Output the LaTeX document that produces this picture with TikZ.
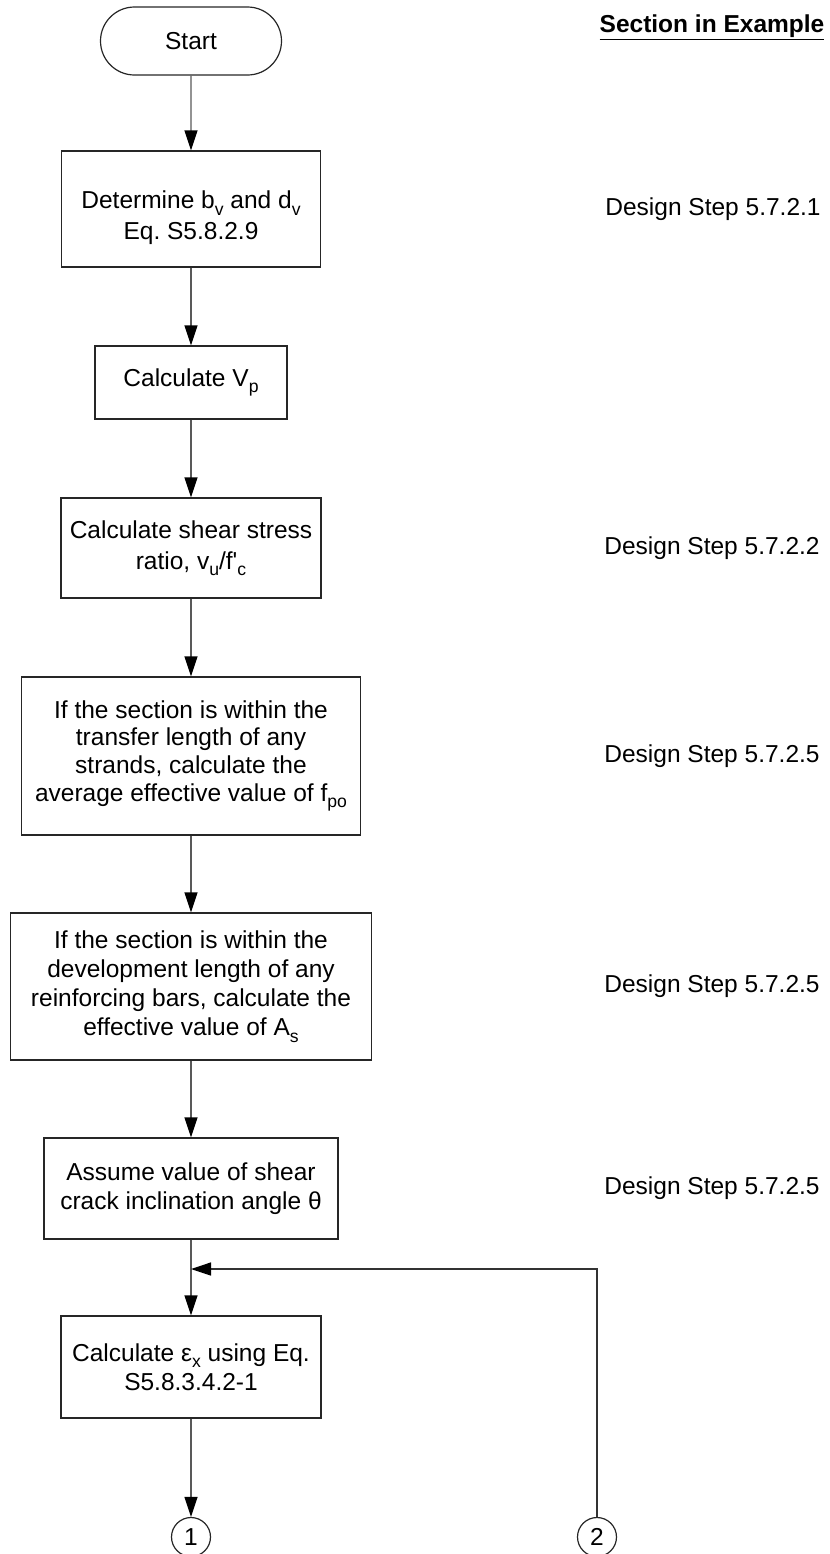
\documentclass[tikz,border=0pt]{standalone}
\usepackage{fontspec}
\setmainfont{Liberation Sans}
\usetikzlibrary{arrows.meta,shapes.misc}
\frenchspacing
% lowered index in the style of the drawing's labels
\newcommand\lowidx[1]{\raisebox{-3.2pt}{\fontsize{8.8}{8.8}\selectfont #1}}
\begin{document}
\begin{tikzpicture}[x=0.5pt,y=-0.5pt,
  every node/.style={font=\fontsize{12.25}{14.6}\selectfont},
  stepbox/.style={draw=black!85, line width=0.6pt, align=center, inner sep=0pt},
  startbox/.style={rounded rectangle, draw=black!85, line width=0.6pt,
    minimum width=90.5pt, minimum height=34pt, inner sep=0pt},
  conn/.style={circle, draw=black!85, line width=0.6pt, minimum size=19.5pt, inner sep=0pt},
  side/.style={anchor=west, inner sep=0pt},
  arr/.style={draw=black!65, line width=0.7pt,
    -{Triangle[length=10pt,width=6.5pt,color=black]}}]
\useasboundingbox (0,0) rectangle (830,1554);

% header of the right-hand column
\node[anchor=base, inner sep=0pt, font=\fontsize{12.25}{14.6}\selectfont\bfseries] (hdr) at (712,32) {\underline{Section in Example}};

% main flow
\node[startbox] (start) at (191,41) {Start};
\node[stepbox, minimum width=129.5pt, minimum height=58pt] (b1) at (191,209) {};
\node[align=center, inner sep=0pt, font=\fontsize{12.25}{15.5}\selectfont] (b1t) at (191,218)
  {Determine b\lowidx{v} and d\lowidx{v}\\Eq. S5.8.2.9};
\node[stepbox, minimum width=96pt, minimum height=36.5pt] (b2) at (191,382.5)
  {Calculate V\lowidx{p}};
\node[stepbox, minimum width=130pt, minimum height=50pt,
  font=\fontsize{12.25}{15.5}\selectfont] (b3) at (191,548)
  {Calculate shear stress\\ratio, v\lowidx{u}/f\textquotesingle\lowidx{c}};
\node[stepbox, minimum width=169.5pt, minimum height=79pt,
  font=\fontsize{12.25}{13.9}\selectfont] (b4) at (191,756)
  {If the section is within the\\transfer length of any\\strands, calculate the\\average effective value of f\lowidx{po}};
\node[stepbox, minimum width=180.5pt, minimum height=73.5pt] (b5) at (191,986.5)
  {If the section is within the\\development length of any\\reinforcing bars, calculate the\\effective value of A\lowidx{s}};
\node[stepbox, minimum width=147pt, minimum height=50.5pt] (b6) at (191,1188.5)
  {Assume value of shear\\crack inclination angle θ};
\node[stepbox, minimum width=130pt, minimum height=51pt] (b7) at (191,1367)
  {Calculate ε\lowidx{x} using Eq.\\S5.8.3.4.2-1};

% off-page connectors
\node[conn] (c1) at (191,1537) {1};
\node[conn] (c2) at (597,1537) {2};
\coordinate (loop) at (191,1269);

% connectors
\draw[arr] (start) -- (b1);
\draw[arr] (b1) -- (b2);
\draw[arr] (b2) -- (b3);
\draw[arr] (b3) -- (b4);
\draw[arr] (b4) -- (b5);
\draw[arr] (b5) -- (b6);
\draw[arr] (b6) -- (b7);
\draw[arr] (b7) -- (c1);
\draw[arr, draw=black!80] (c2.north) |- (loop);

% design step references
\node[side] (s1) at (605,209) {Design Step 5.7.2.1};
\node[side] (s2) at (604,548) {Design Step 5.7.2.2};
\node[side] (s3) at (604,756) {Design Step 5.7.2.5};
\node[side] (s4) at (604,986.5) {Design Step 5.7.2.5};
\node[side] (s5) at (604,1188.5) {Design Step 5.7.2.5};
\end{tikzpicture}
\end{document}
